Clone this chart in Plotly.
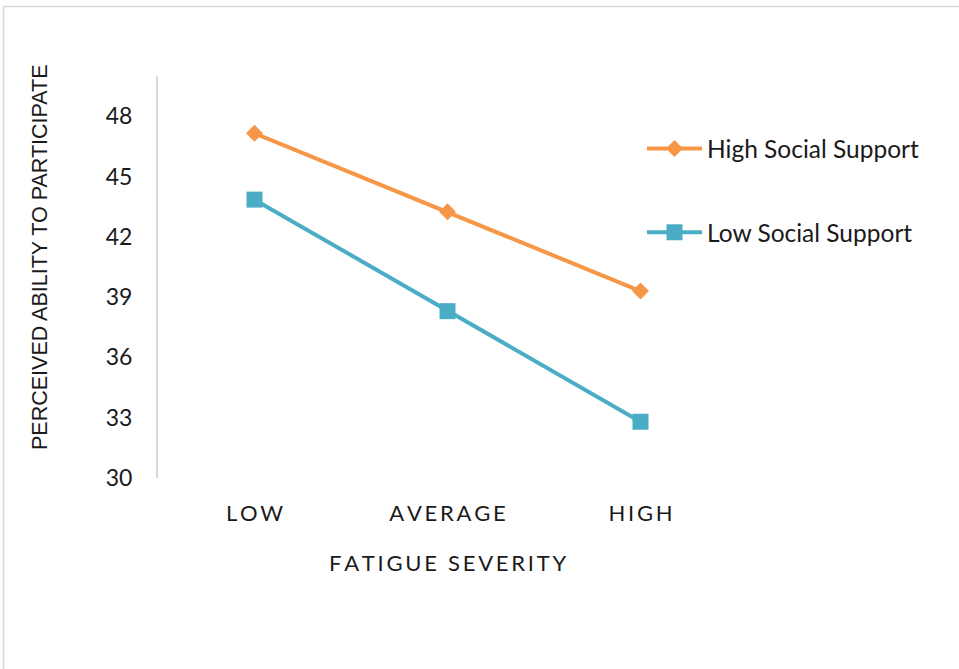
import plotly.graph_objects as go

# Fatigue severity levels on the x axis
severity = ["LOW", "AVERAGE", "HIGH"]

# Perceived ability to participate, by social support level
high_support = [47.15, 43.25, 39.3]
low_support = [43.85, 38.3, 32.8]

y_ticks = [30, 33, 36, 39, 42, 45, 48]

W, H = 959, 669
ORANGE = "#F79646"
BLUE = "#4BACC6"
TEXT = "#1a1a1a"


def spaced(s):
    # letter-spaced category labels
    return "\u2009".join(s)


fig = go.Figure()
fig.add_trace(go.Scatter(
    x=severity, y=high_support, name="High Social Support",
    mode="lines+markers", legendgroup="a",
    line=dict(color=ORANGE, width=4),
    marker=dict(symbol="diamond", size=13, color=ORANGE),
))
fig.add_trace(go.Scatter(
    x=severity, y=low_support, name="Low Social Support",
    mode="lines+markers", legendgroup="b",
    line=dict(color=BLUE, width=4),
    marker=dict(symbol="square", size=16, color=BLUE),
))

fig.update_layout(
    width=W, height=H,
    margin=dict(l=0, r=0, t=0, b=0, autoexpand=False),
    paper_bgcolor="white", plot_bgcolor="white",
    font=dict(family="Lato", color=TEXT),
    showlegend=True,
    legend=dict(
        x=642 / W, y=1 - 126 / H, xanchor="left", yanchor="top",
        font=dict(size=24.5, family="Lato", color=TEXT),
        tracegroupgap=49, itemwidth=55,
        bgcolor="rgba(0,0,0,0)",
    ),
    xaxis=dict(
        domain=[158 / W, 737 / W],
        range=[-0.5, 2.5],
        tickmode="array", tickvals=severity,
        ticktext=[spaced(s) for s in severity],
        tickfont=dict(size=22, family="Lato", color=TEXT),
        showline=False, showgrid=False, zeroline=False,
        ticks="", ticklabelstandoff=20, automargin=False,
    ),
    yaxis=dict(
        domain=[1 - 478 / H, 1 - 76 / H],
        range=[30, 50],
        tickmode="array", tickvals=y_ticks,
        tickfont=dict(size=23, family="Lato", color=TEXT),
        showline=True, linecolor="#D9D9D9", linewidth=2,
        showgrid=False, zeroline=False, ticks="", ticklabelstandoff=19,
        automargin=False,
    ),
    annotations=[
        dict(text=spaced("FATIGUE") + "\u2009\u00a0\u2009" + spaced("SEVERITY"),
             xref="paper", yref="paper", x=447 / W, y=1 - 562 / H,
             showarrow=False, xanchor="center", yanchor="middle",
             font=dict(size=22, family="Lato", color=TEXT)),
        dict(text="PERCEIVED ABILITY TO PARTICIPATE",
             xref="paper", yref="paper", x=40 / W, y=1 - 257 / H,
             showarrow=False, xanchor="center", yanchor="middle",
             textangle=-90,
             font=dict(size=21.5, family="Liberation Sans", color=TEXT)),
    ],
    shapes=[
        dict(type="rect", xref="paper", yref="paper",
             x0=3.5 / W, x1=1.05, y0=-0.05, y1=1 - 6.5 / H,
             line=dict(color="#D9D9D9", width=1.5), fillcolor="rgba(0,0,0,0)",
             layer="below"),
    ],
)

fig.write_html("out.html")
